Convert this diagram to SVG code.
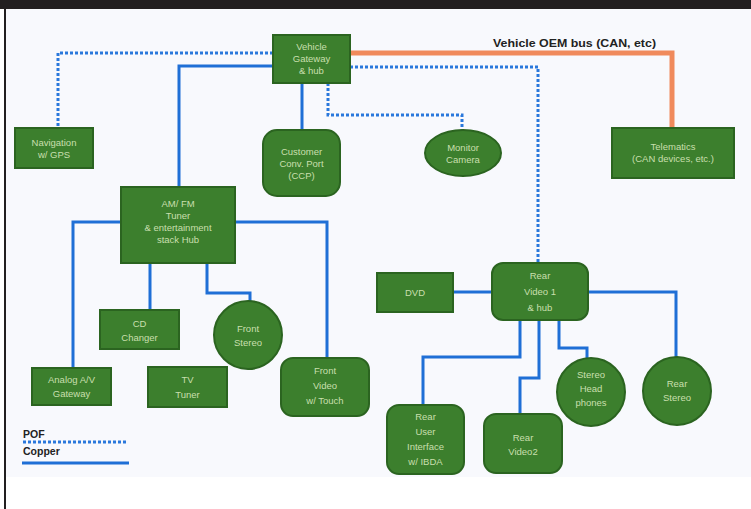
<svg xmlns="http://www.w3.org/2000/svg" width="751" height="509" viewBox="0 0 751 509">
<style>
.n{fill:#3c7f2d;stroke:#2b6420;stroke-width:2}
.t{font-family:"Liberation Sans",Arial,sans-serif;font-size:9.5px;fill:#c9dfae;text-anchor:middle}
.cu{fill:none;stroke:#1f6fd6;stroke-width:3}
.pof{fill:none;stroke:#2a78dc;stroke-width:3;stroke-dasharray:3 2}
.oem{fill:none;stroke:#f08a5c;stroke-width:5}
.lg{font-family:"Liberation Sans",Arial,sans-serif;font-size:10.5px;font-weight:bold;fill:#222}
</style>
<rect x="0" y="0" width="751" height="509" fill="#ffffff"/>
<rect x="6" y="9" width="745" height="468" fill="#f8f9fd"/>
<rect x="0" y="0" width="751" height="9" fill="#221f20"/>
<rect x="4" y="9" width="2" height="500" fill="#221f20"/>
<g id="connectors">
<polyline class="oem" points="350,53 672,53 672,128"/>
<polyline class="pof" points="273,53 58,53 58,128"/>
<polyline class="pof" points="350,67 538,67 538,263"/>
<polyline class="pof" points="328,83 328,115 462,115 462,130"/>
<polyline class="cu" points="273,66 179,66 179,187"/>
<polyline class="cu" points="302,83 302,130"/>
<polyline class="cu" points="121,222 73,222 73,368"/>
<polyline class="cu" points="150,263 150,310"/>
<polyline class="cu" points="207,263 207,293 250,293 250,302"/>
<polyline class="cu" points="235,222 327,222 327,358"/>
<polyline class="cu" points="453,292 492,292"/>
<polyline class="cu" points="588,292 676,292 676,357"/>
<polyline class="cu" points="520,320 520,357 423,357 423,405"/>
<polyline class="cu" points="539,320 539,378 520,378 520,414"/>
<polyline class="cu" points="559,320 559,348 587,348 587,358"/>
</g>
<text class="lg" x="493" y="47" font-size="10px" textLength="163" lengthAdjust="spacingAndGlyphs">Vehicle OEM bus (CAN, etc)</text>
<g id="gateway"><rect class="n" x="273" y="35" width="77" height="48"/><text class="t" x="311.5" y="50">Vehicle</text><text class="t" x="311.5" y="62">Gateway</text><text class="t" x="311.5" y="74">&amp; hub</text></g>
<g id="nav"><rect class="n" x="15" y="128" width="78" height="40"/><text class="t" x="54" y="146">Navigation</text><text class="t" x="54" y="158">w/ GPS</text></g>
<g id="ccp"><rect class="n" x="263" y="130" width="77" height="66" rx="14"/><text class="t" x="301.5" y="155">Customer</text><text class="t" x="301.5" y="167">Conv. Port</text><text class="t" x="301.5" y="179">(CCP)</text></g>
<g id="camera"><ellipse class="n" cx="463" cy="153" rx="38" ry="23"/><text class="t" x="463" y="151">Monitor</text><text class="t" x="463" y="163">Camera</text></g>
<g id="telematics"><rect class="n" x="612" y="128" width="122" height="50"/><text class="t" x="673" y="150">Telematics</text><text class="t" x="673" y="162">(CAN devices, etc.)</text></g>
<g id="tuner"><rect class="n" x="121" y="187" width="114" height="76"/><text class="t" x="178" y="207">AM/ FM</text><text class="t" x="178" y="219">Tuner</text><text class="t" x="178" y="231">&amp; entertainment</text><text class="t" x="178" y="243">stack Hub</text></g>
<g id="dvd"><rect class="n" x="377" y="273" width="76" height="39"/><text class="t" x="415" y="296">DVD</text></g>
<g id="rearvideo1"><rect class="n" x="492" y="263" width="96" height="57" rx="11"/><text class="t" x="540" y="279">Rear</text><text class="t" x="540" y="295">Video 1</text><text class="t" x="540" y="311">&amp; hub</text></g>
<g id="cd"><rect class="n" x="100" y="310" width="79" height="39"/><text class="t" x="139.5" y="327">CD</text><text class="t" x="139.5" y="341">Changer</text></g>
<g id="frontstereo"><circle class="n" cx="248" cy="335" r="34"/><text class="t" x="248" y="332">Front</text><text class="t" x="248" y="346">Stereo</text></g>
<g id="analog"><rect class="n" x="32" y="368" width="79" height="37"/><text class="t" x="71.5" y="383">Analog A/V</text><text class="t" x="71.5" y="397">Gateway</text></g>
<g id="tv"><rect class="n" x="148" y="367" width="79" height="40"/><text class="t" x="187.5" y="383">TV</text><text class="t" x="187.5" y="398">Tuner</text></g>
<g id="frontvideo"><rect class="n" x="281" y="358" width="88" height="58" rx="12"/><text class="t" x="325" y="374">Front</text><text class="t" x="325" y="389">Video</text><text class="t" x="325" y="404">w/ Touch</text></g>
<g id="rearui"><rect class="n" x="387" y="405" width="77" height="69" rx="12"/><text class="t" x="425.5" y="420">Rear</text><text class="t" x="425.5" y="435">User</text><text class="t" x="425.5" y="450">Interface</text><text class="t" x="425.5" y="465">w/ IBDA</text></g>
<g id="rearvideo2"><rect class="n" x="484" y="414" width="78" height="59" rx="12"/><text class="t" x="523" y="441">Rear</text><text class="t" x="523" y="455">Video2</text></g>
<g id="headphones"><circle class="n" cx="591" cy="392" r="34"/><text class="t" x="591" y="378">Stereo</text><text class="t" x="591" y="392">Head</text><text class="t" x="591" y="406">phones</text></g>
<g id="rearstereo"><circle class="n" cx="677" cy="391" r="34"/><text class="t" x="677" y="387">Rear</text><text class="t" x="677" y="401">Stereo</text></g>
<g id="legend">
<text class="lg" x="23" y="438">POF</text>
<line class="pof" x1="23" y1="442" x2="127" y2="442"/>
<text class="lg" x="23" y="455">Copper</text>
<line class="cu" x1="22" y1="463" x2="129" y2="463"/>
</g>
</svg>
